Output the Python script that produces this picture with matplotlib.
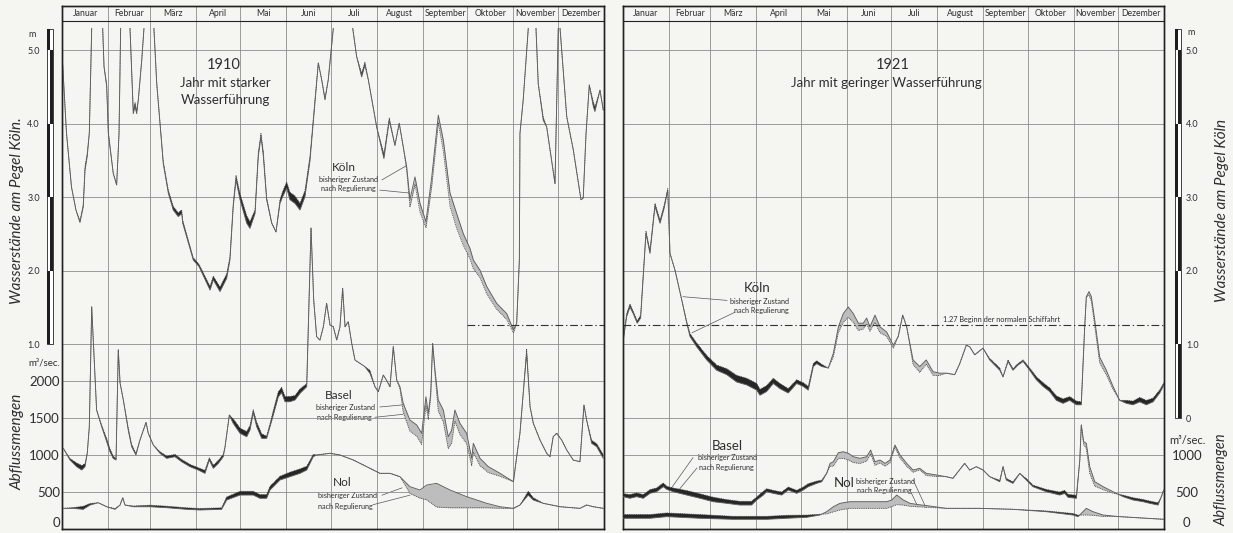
import numpy as np
import matplotlib
matplotlib.use("Agg")
import matplotlib.pyplot as plt
from matplotlib.patches import Rectangle

nan = np.nan
plt.rcParams["font.family"] = ["Lato", "DejaVu Sans"]

months = ["Januar", "Februar", "März", "April", "Mai", "Juni", "Juli",
          "August", "September", "Oktober", "November", "Dezember"]
month_len = [31, 28, 31, 30, 31, 30, 31, 31, 30, 31, 30, 31]

# ---- 1910: Wasserstand Köln (m), day of year ----
koeln_1910_day = [0, 3.0, 6.4, 9.4, 12.1, 14.3, 15.5, 17.0, 18.4, 20.0, 24,
                  27.4, 28.3, 30.1, 31.2, 34.5, 36.8, 38.4, 39.5, 42,
                  45.8, 48.0, 49.2, 50.3, 51.4, 53.7, 55.2, 58,
                  61.9, 63.8, 68.2, 71.6, 74.9, 78.3, 80.6, 81.3, 88.4, 92.3,
                  99.7, 101.9, 106.4, 110.9, 113.1, 115.3, 117.2, 119.9, 124.4, 126.6,
                  130.0, 132.2, 134.0, 135.6, 137.8, 141.2, 144.1, 146.8, 148.6, 151.3,
                  153.5, 156.9, 160.3, 163.6, 167.0, 170.4, 172.6, 174.9, 177.1, 179.3,
                  182.7, 189,
                  195.8, 198.4, 201.8, 204.0, 206.3, 211.9, 216.8, 220.4, 224.2, 227.1,
                  229.8, 232.1, 234.3, 237.7, 241.1, 245.1, 249.0, 253.4, 256.8, 261.3,
                  265.8, 270.2, 274.7, 277.0, 281.5, 286.0, 292.7, 299.5, 304.0, 306.2,
                  308.0, 308.4, 310.6, 314.0, 317,
                  319.2, 320.7, 324.1, 326.4, 332.0, 334.2, 334.8,
                  335.4, 339.9, 344.3, 349.5, 351.0, 352.9, 355.1, 357.8, 358.9, 362.3, 364.5]
koeln_1910_m = [4.97, 3.88, 3.14, 2.83, 2.66, 2.87, 3.37, 3.56, 3.88, 5.3, nan,
                5.3, 4.78, 4.51, 3.87, 3.33, 3.17, 3.87, 5.3, nan,
                5.3, 4.14, 4.24, 4.14, 4.33, 4.87, 5.3, nan,
                5.3, 4.55, 3.46, 3.06, 2.83, 2.74, 2.78, 2.65, 2.15, 2.06,
                1.74, 1.88, 1.72, 1.90, 2.15, 2.87, 3.24, 2.97, 2.65, 2.58,
                2.78, 3.56, 3.83, 3.56, 2.97, 2.65, 2.53, 2.92, 3.01, 3.13,
                2.97, 2.92, 2.83, 3.01, 3.50, 4.30, 4.83, 4.60, 4.33, 4.60,
                5.3, nan,
                5.3, 4.92, 4.64, 4.80, 4.60, 3.96, 3.53, 4.05, 3.71, 4.01,
                3.69, 3.42, 2.97, 3.28, 2.92, 2.67, 3.28, 4.12, 3.78, 3.06,
                2.78, 2.51, 2.31, 2.15, 2.01, 1.79, 1.56, 1.42, 1.20, 1.29,
                2.15, 3.87, 4.33, 5.3, nan,
                5.3, 4.55, 4.05, 3.96, 3.19, 5.3, nan,
                5.3, 4.10, 3.65, 2.97, 2.99, 3.87, 4.53, 4.24, 4.17, 4.46, 4.19]
# nach Regulierung minus bisheriger Zustand
koeln_1910_diff = [0, 0, 0, 0, 0.02, 0.03, 0.05, 0.04, 0, 0, 0,
                   0, 0, 0.03, 0.02, 0, 0, 0, 0, 0,
                   0, 0.04, 0.05, 0.04, 0, 0, 0, 0,
                   0, 0, 0.03, 0.04, 0.05, 0.05, 0.05, 0.04, 0.03, 0.03,
                   0.05, 0.05, 0.06, 0.06, 0.04, 0.04, 0.06, 0.08, 0.10, 0.09,
                   0.05, 0.05, 0.04, 0.06, 0.03, 0.01, 0, 0.05, 0.07, 0.08,
                   0.10, 0.10, 0.09, 0.08, 0.06, 0.04, 0, 0, 0.02, 0,
                   0, 0,
                   0, 0, 0.05, 0.04, 0, 0, 0.06, 0.03, 0, 0,
                   0, -0.05, -0.10, -0.10, -0.12, -0.08, -0.12, -0.10, -0.15, -0.18,
                   -0.20, -0.16, -0.14, -0.12, -0.10, -0.10, -0.08, -0.08, -0.04, 0,
                   0, 0, 0, 0, 0,
                   0, 0, 0.04, 0, 0, 0, 0,
                   0, 0, 0, 0, 0, 0, 0, 0.06, 0.06, 0, 0]

# ---- 1910: Abflussmengen Basel (m3/sec) ----
basel_1910_day = [0.9, 5.4, 9.9, 13.3, 15.5, 17.0, 18.4, 19.3, 20.0, 23.3,
                  26.7, 30.1, 32.3, 34.5, 36.4, 37.9, 39.1, 41.3, 44.6, 46.9,
                  49.8, 52.5, 56.6, 58.1, 61.5, 66.0, 70.5, 76.1, 80.6, 86.2,
                  91.8, 96.3, 99.2, 101.9, 105.3, 108.6, 109.8, 112.7, 115.3, 119.9,
                  124.4, 126.6, 128.8, 131.1, 134.5, 137.8, 140.1, 142.3, 145.7, 147.9,
                  150.2, 153.5, 156.9, 160.3, 164.8, 167.7, 169.5, 171.5, 173.7, 176.0,
                  178.2, 180.5, 182.7, 185.0, 187.2, 189.0, 190.6, 192.8, 195.1, 197.3,
                  200.7, 204.0, 207.4, 210.8, 213.0, 216.4, 219.1, 220.9, 223.1, 225.4,
                  227.6, 229.8, 234.3, 238.9, 242.2, 245.1, 246.7, 248.3, 249.6, 251.2,
                  253.4, 256.8, 260.1, 262.4, 264.6, 268.0, 272.5, 275.9, 277.0, 281.5,
                  287.1, 295.0, 304.0, 306.2, 308.4, 310.6, 312.9, 315.2, 317.4, 321.9,
                  326.4, 328.6, 330.8, 333.1, 336.5, 339.9, 344.3, 348.8, 351.5, 353.3,
                  356.7, 360.1, 364.5]
basel_1910_q = [1090, 932, 842, 797, 842, 1023, 1383, 2283, 3003, 1608,
                1383, 1180, 1044, 955, 932, 2420, 1973, 1743, 1337, 1112,
                1000, 1202, 1441, 1293, 1135, 1023, 955, 977, 909, 842,
                797, 752, 932, 820, 887, 977, 1112, 1540, 1428, 1293,
                1247, 1337, 1571, 1383, 1225, 1225, 1383, 1540, 1787, 1842,
                1720, 1720, 1743, 1833, 1922, 4066, 3094, 2598, 2553, 2733,
                3049, 2756, 2733, 2553, 2733, 3252, 2733, 2801, 2509, 2283,
                2238, 2193, 2103, 1922, 1855, 2081, 1990, 1922, 2463, 2013,
                1922, 1698, 1472, 1405, 1293, 1787, 1563, 1833, 2509, 2148,
                1743, 1608, 1247, 1337, 1608, 1428, 1293, 955, 1158, 955,
                842, 752, 639, 977, 1293, 1833, 2373, 1652, 1428, 1202,
                1023, 977, 1247, 1293, 1202, 1067, 932, 909, 1675, 1472,
                1158, 1112, 955]
basel_1910_diff = [0, 20, 50, 60, 40, 0, 0, 0, 0, 0,
                   20, 40, 40, 30, 20, 0, 0, 0, 30, 30,
                   20, 0, 0, 0, 0, 20, 30, 30, 30, 30,
                   30, 40, 30, 40, 40, 30, 0, 0, 60, 70,
                   70, 60, 40, 60, 60, 30, 40, 60, 70, 70,
                   70, 70, 60, 60, 40, 0, 0, 0, 0, 0,
                   0, 0, 0, 0, 0, 0, 0, 0, 0, 0,
                   0, 0, 40, 0, 0, 0, 0, 0, 0, 0,
                   -30, -120, -150, -150, -150, -120, -80, -60, 0, -60,
                   -150, -160, -160, -180, -150, -150, -140, -100, -120, -100,
                   -80, -40, 0, 0, 0, 0, 60, 0, 0, 0,
                   0, 0, 0, 0, 0, 0, 0, 0, 0, 0,
                   40, 40, 50]

# ---- 1910: Abflussmengen Nol (m3/sec) ----
nol_1910_day = [0.9, 7.6, 14.3, 18.9, 24.4, 30.1, 35.7, 39.1, 40.9, 42.4,
                48.0, 59.3, 70.5, 84.0, 92.9, 107.5, 110.9, 119.9, 128.8, 133.3,
                137.8, 140.1, 146.8, 153.5, 160.3, 164.8, 169.2, 171.5, 180.5, 187.2,
                196.2, 205.2, 214.1, 220.9, 227.6, 234.3, 241.1, 245.6, 252.3, 261.3,
                272.5, 286.0, 295.0, 304.0, 308.4, 314.0, 317.4, 324.1, 335.4, 348.8,
                353.3, 357.8, 364.5]
nol_1910_q = [279, 279, 266, 324, 355, 301, 266, 324, 423, 324,
              301, 301, 288, 266, 257, 266, 392, 459, 459, 415,
              415, 527, 662, 707, 752, 797, 977, 1000, 1023, 1000,
              932, 842, 752, 752, 707, 572, 527, 594, 617, 527,
              437, 347, 301, 279, 324, 459, 392, 347, 301, 279,
              324, 301, 279]
nol_1910_diff = [0, 10, 40, 20, 0, 0, 10, 0, 0, 0,
                 10, 20, 20, 20, 20, 20, 40, 50, 50, 50,
                 50, 50, 50, 60, 60, 50, 30, 0, 0, 0,
                 0, 0, 0, 0, 0, -90, -110, -200, -320, -240,
                 -150, -60, -20, 0, 0, 50, 30, 0, 0, 0,
                 0, 0, 0]

# ---- 1921: Wasserstand Köln (m) ----
koeln_1921_day = [0.2, 2.5, 4.7, 6.9, 9.6, 11.9, 15.5, 18.2, 21.6, 25.0,
                  27.7, 30.2, 31.7, 35.1, 39.6, 43.0, 45.2, 49.7, 56.5, 63.2,
                  70.0, 76.7, 83.5, 90.2, 92.4, 96.9, 101.4, 105.9, 111.5, 117.2,
                  121.6, 125.0, 128.4, 130.7, 134.1, 138.5, 141.9, 145.3, 148.6, 152.0,
                  155.4, 158.8, 162.1, 164.4, 166.6, 170.0, 173.4, 177.9, 182.4, 185.7,
                  188.7, 191.4, 195.7, 200.2, 204.6, 209.2, 213.7, 218.1, 223.8, 227.2,
                  231.6, 233.9, 237.3, 242.9, 247.4, 254.2, 256.4, 259.8, 263.1, 266.5,
                  269.9, 274.4, 278.9, 283.4, 287.9, 292.4, 296.9, 301.4, 305.9, 309.2,
                  311.5, 312.6, 314.4, 316.0, 318.3, 321.6, 326.1, 330.6, 335.1, 339.6,
                  344.1, 348.6, 353.1, 357.6, 362.1, 365.0]
koeln_1921_m = [1.06, 1.38, 1.51, 1.42, 1.29, 1.36, 2.51, 2.24, 2.88, 2.65,
                2.85, 3.10, 2.24, 2.01, 1.61, 1.29, 1.11, 0.97, 0.79, 0.65,
                0.59, 0.49, 0.45, 0.38, 0.31, 0.36, 0.47, 0.40, 0.34, 0.47,
                0.43, 0.38, 0.70, 0.74, 0.70, 0.68, 0.88, 1.24, 1.42, 1.51,
                1.42, 1.29, 1.29, 1.36, 1.24, 1.40, 1.24, 1.17, 0.99, 1.11,
                1.40, 1.24, 0.79, 0.70, 0.79, 0.63, 0.61, 0.61, 0.59, 0.74,
                0.99, 0.97, 0.86, 0.95, 0.79, 0.65, 0.56, 0.77, 0.65, 0.72,
                0.77, 0.65, 0.52, 0.43, 0.36, 0.24, 0.20, 0.24, 0.18, 0.18,
                1.24, 1.65, 1.72, 1.65, 1.33, 0.83, 0.65, 0.43, 0.24, 0.20,
                0.18, 0.22, 0.18, 0.22, 0.34, 0.45]
koeln_1921_diff = [0.03, 0.04, 0.04, 0.03, 0.03, 0.04, 0.03, 0.04, 0.04, 0.04,
                   0.04, 0.02, 0, 0, 0, 0.02, 0.04, 0.05, 0.06, 0.07,
                   0.08, 0.09, 0.09, 0.09, 0.08, 0.08, 0.07, 0.07, 0.06, 0.05,
                   0.05, 0.05, 0.04, 0.04, 0.03, 0, -0.05, -0.08, -0.12, -0.14,
                   -0.12, -0.10, -0.08, -0.08, -0.06, -0.10, -0.08, -0.06, -0.04, 0,
                   0, 0, -0.06, -0.08, -0.06, -0.05, -0.03, 0, 0, 0,
                   0, 0, 0, 0, 0.02, 0.03, 0, 0.02, 0.02, 0.02,
                   0.02, 0.03, 0.04, 0.05, 0.05, 0.06, 0.06, 0.05, 0.05, 0.04,
                   0, 0, -0.05, -0.06, -0.08, -0.08, -0.06, -0.04, 0, 0.04,
                   0.05, 0.06, 0.06, 0.05, 0.04, 0.03]

# ---- 1921: Abflussmengen Basel ----
basel_1921_day = [0.2, 4.7, 9.2, 13.7, 18.2, 22.7, 27.2, 29.5, 33.9, 43.0,
                  52.0, 60.9, 70.0, 78.9, 86.8, 90.2, 94.7, 96.9, 101.4, 107.1,
                  111.5, 117.2, 121.6, 125.0, 130.7, 134.1, 137.4, 139.7, 141.9, 145.3,
                  148.6, 152.0, 155.4, 159.9, 164.4, 167.1, 170.0, 173.4, 176.8, 180.1,
                  183.5, 186.9, 191.4, 195.7, 200.2, 204.6, 211.4, 218.1, 222.6, 230.5,
                  233.9, 238.4, 242.9, 247.4, 254.2, 256.4, 258.6, 263.1, 267.7, 272.1,
                  276.6, 285.6, 294.7, 298.0, 300.3, 305.9, 308.2, 309.2, 310.8, 312.6,
                  314.9, 318.3, 323.9, 330.6, 337.4, 344.1, 350.9, 355.4, 361.0, 363.2,
                  364.8]
basel_1921_q = [437, 415, 437, 415, 482, 504, 572, 536, 504, 459,
                415, 369, 347, 324, 324, 392, 459, 504, 482, 459,
                527, 482, 527, 572, 617, 639, 752, 887, 909, 1031,
                1044, 1023, 977, 955, 977, 1067, 909, 932, 887, 932,
                1135, 1000, 887, 797, 820, 752, 730, 707, 685, 887,
                797, 842, 797, 707, 639, 842, 662, 617, 752, 662,
                572, 504, 459, 482, 428, 415, 932, 1405, 1180, 1158,
                842, 639, 572, 504, 437, 392, 369, 347, 324, 437,
                527]
basel_1921_diff = [40, 50, 50, 50, 50, 50, 50, 40, 50, 60,
                   60, 60, 50, 50, 50, 40, 50, 40, 40, 40,
                   40, 40, 40, 40, 30, 20, 0, -40, -60, -80,
                   -90, -90, -80, -70, -60, -50, -50, -40, -40, -40,
                   -30, -40, -40, -30, -20, -30, -20, 0, 0, 0,
                   0, 0, 0, 0, 20, 0, 20, 20, 0, 20,
                   20, 30, 40, 40, 40, 40, 0, 0, -40, -70,
                   -90, -60, -40, -20, 20, 30, 30, 30, 30, 0,
                   0]

# ---- 1921: Abflussmengen Nol ----
nol_1921_day = [0.2, 18.2, 29.5, 52.0, 74.4, 96.9, 110.4, 123.9, 132.9, 137.4,
                141.9, 146.4, 153.2, 164.4, 177.9, 181.3, 184.7, 189.1, 193.6, 199.0,
                206.9, 218.1, 240.7, 263.1, 285.6, 303.6, 307.0, 312.6, 317.1, 323.9,
                335.1, 353.1, 365.0]
nol_1921_q = [145, 145, 167, 145, 131, 131, 145, 158, 189, 234,
              301, 347, 369, 369, 369, 392, 459, 392, 347, 330,
              311, 279, 279, 266, 234, 189, 167, 279, 234, 189,
              167, 145, 131]
nol_1921_diff = [50, 50, 50, 50, 40, 40, 40, 30, 10, -30,
                 -70, -90, -90, -90, -90, -90, -130, -70, -40, -30,
                 -20, 0, 0, 0, 10, 20, 20, -90, -50, -20,
                 0, 0, 0]

# sheet scales: Köln metres on ax, m3/sec on twin; 1 m on the sheet = 993 m3/sec, 0 m = 1500
H_LO, H_HI = -1.51, 5.605
Q_OFF, Q_PER_M = 1500, 993.2

PAPER = "#f5f5f2"
INK = "#2e2e2e"
THIN = "#5e5e5e"
DARK = "#262626"
LIGHT = "#bdbdbd"
GRIDC = "#8c8c8c"

fig = plt.figure(figsize=(12.33, 5.33), dpi=100, facecolor=PAPER)


def band(ax, day, base, diff):
    d = np.array(day, float)
    b = np.array(base, float)
    n = b + np.array(diff, float)
    ax.fill_between(d, b, n, where=n > b, interpolate=True, color=DARK, lw=0, zorder=2)
    ax.fill_between(d, b, n, where=n < b, interpolate=True, color=LIGHT, lw=0, zorder=2)
    ax.plot(d, n, color="#444", lw=0.6, ls=(0, (1.2, 1.0)), zorder=3)
    ax.plot(d, b, color=THIN, lw=0.65, zorder=3)


def panel(rect, side):
    ax = fig.add_axes(rect, facecolor=PAPER)
    ax.set_xlim(0, 365)
    ax.set_ylim(H_LO, H_HI)
    ax2 = ax.twinx()
    ax2.set_ylim(Q_OFF + Q_PER_M * H_LO, Q_OFF + Q_PER_M * H_HI)
    edges = np.cumsum(month_len)[:-1]
    ax.set_xticks(edges)
    ax.tick_params(axis="x", length=0, labelbottom=False)
    ax.grid(axis="x", color=GRIDC, lw=0.6)
    ax.grid(axis="y", color=GRIDC, lw=0.6)
    ax2.grid(axis="y", color=GRIDC, lw=0.6)
    ax.set_axisbelow(True)
    ax2.set_axisbelow(True)
    for a in (ax, ax2):
        for s in a.spines.values():
            s.set_color("#222")
            s.set_linewidth(1.0)
    # month header
    ax.axhline(5.40, color="#222", lw=0.8)
    starts = np.concatenate([[0], edges])
    for m, s, ln in zip(months, starts, month_len):
        ax.text(s + ln / 2, 5.505, m, ha="center", va="center", fontsize=6.2, color=INK)
    if side == "left":
        ax.set_yticks([1, 2, 3, 4, 5], labels=["1.0", "2.0", "3.0", "4.0", "5.0"])
        ax.tick_params(axis="y", length=0, pad=15.8, labelsize=6.5, labelcolor=INK)
        ax2.yaxis.tick_left()
        ax2.set_yticks([0, 500, 1000, 1500, 2000], labels=["0", "500", "1000", "1500", "2000"])
        ax2.tick_params(axis="y", length=0, pad=1.5, labelsize=9.5, labelcolor=INK)
    else:
        ax.yaxis.tick_right()
        ax.set_yticks([0, 1, 2, 3, 4, 5], labels=["0", "1.0", "2.0", "3.0", "4.0", "5.0"])
        ax.tick_params(axis="y", length=0, pad=15.8, labelsize=6.5, labelcolor=INK)
        ax2.set_yticks([0, 500, 1000], labels=["0", "500", "1000"])
        ax2.tick_params(axis="y", length=0, pad=16.5, labelsize=9.5, labelcolor=INK)
        for t in ax2.get_yticklabels():
            t.set_horizontalalignment("center")
    # keep the zero label of the discharge scale inside the sheet
    zero = ax2.yaxis.get_major_ticks()[0]
    zero.label1.set_verticalalignment("bottom")
    zero.label2.set_verticalalignment("bottom")
    return ax, ax2


def ruler(ax, x0, top, bottom):
    tr = ax.get_yaxis_transform()
    w = 0.011
    ax.add_patch(Rectangle((x0, bottom), w, top - bottom, transform=tr, clip_on=False,
                           facecolor="white", edgecolor="#222", lw=0.6))
    levels = [top] + list(range(int(np.floor(top)), int(bottom) - 1, -1))
    for i in range(len(levels) - 1):
        hi, lo = levels[i], max(levels[i + 1], bottom)
        off = 0 if i % 2 == 0 else w / 2
        ax.add_patch(Rectangle((x0 + off, lo), w / 2, hi - lo, transform=tr, clip_on=False,
                               facecolor="#1e1e1e", edgecolor="none"))


def note(ax, x, y, s, size=5.2, **kw):
    ax.text(x, y, s, ha="center", va="center", fontsize=size, color=INK, **kw)


def leader(ax, x1, y1, x2, y2):
    ax.plot([x1, x2], [y1, y2], color="#555", lw=0.5, zorder=4)


# ---------------- left panel: 1910 ----------------
axL, axL2 = panel([62 / 1233, 4 / 533, 542 / 1233, 523 / 533], "left")
band(axL, koeln_1910_day, koeln_1910_m, koeln_1910_diff)
band(axL2, basel_1910_day, basel_1910_q, basel_1910_diff)
band(axL2, nol_1910_day, nol_1910_q, nol_1910_diff)
axL.plot([273, 365], [1.27, 1.27], color="#333", lw=0.8, ls=(0, (7, 2.5, 1.2, 2.5)), zorder=3)

axL.text(109, 4.80, "1910", ha="center", va="center", fontsize=10.5, color=INK)
axL.text(110, 4.56, "Jahr mit starker", ha="center", va="center", fontsize=9.5, color=INK)
axL.text(110, 4.33, "Wasserführung", ha="center", va="center", fontsize=9.5, color=INK)

note(axL, 190, 3.41, "Köln", size=8.5)
note(axL, 193, 3.25, "bisheriger Zustand")
note(axL, 193, 3.12, "nach Regulierung")
leader(axL, 215.5, 3.24, 231.7, 3.43)
leader(axL, 214.1, 3.10, 234.3, 3.06)

note(axL, 186.5, 0.30, "Basel", size=8.5)
note(axL, 191, 0.14, "bisheriger Zustand")
note(axL, 190, 0.01, "nach Regulierung")
leader(axL, 214.1, 0.15, 230.3, 0.18)
leader(axL, 210.8, 0.01, 229.6, 0.05)

note(axL, 189, -0.88, "Nol", size=8.5)
note(axL, 192, -1.06, "bisheriger Zustand")
note(axL, 190.5, -1.20, "nach Regulierung")
leader(axL, 215.5, -1.05, 229.0, -0.95)
leader(axL, 209.4, -1.18, 234.3, -1.05)

ruler(axL, -0.0277, 5.29, 1.0)
trL = axL.get_yaxis_transform()
axL.text(-0.055, 5.22, "m", transform=trL, ha="center", va="center", fontsize=6.5, color=INK)
axL.text(-0.004, 0.75, "m³/sec.", transform=trL, ha="right", va="center", fontsize=7, color=INK)
axL.text(-0.083, 2.82, "Wasserstände am Pegel Köln.", transform=trL, rotation=90,
         ha="center", va="center", fontsize=11, style="italic", color=INK)
axL.text(-0.083, -0.33, "Abflussmengen", transform=trL, rotation=90,
         ha="center", va="center", fontsize=11, style="italic", color=INK)

# ---------------- right panel: 1921 ----------------
axR, axR2 = panel([623 / 1233, 4 / 533, 541 / 1233, 523 / 533], "right")
band(axR, koeln_1921_day, koeln_1921_m, koeln_1921_diff)
band(axR2, basel_1921_day, basel_1921_q, basel_1921_diff)
band(axR2, nol_1921_day, nol_1921_q, nol_1921_diff)
axR.plot([0, 365], [1.27, 1.27], color="#333", lw=0.8, ls=(0, (7, 2.5, 1.2, 2.5)), zorder=3)
axR.text(216, 1.29, "1.27 Beginn der normalen Schiffahrt", ha="left", va="bottom",
         fontsize=5.3, color=INK)

axR.text(182, 4.80, "1921", ha="center", va="center", fontsize=10.5, color=INK)
axR.text(178, 4.56, "Jahr mit geringer Wasserführung", ha="center", va="center",
         fontsize=9.5, color=INK)

note(axR, 90.4, 1.77, "Köln", size=9.5)
note(axR, 92.4, 1.58, "bisheriger Zustand")
note(axR, 93.1, 1.46, "nach Regulierung")
leader(axR, 70.2, 1.60, 40.5, 1.65)
leader(axR, 75.6, 1.44, 46.6, 1.16)

note(axR, 70.2, -0.38, "Basel", size=9.5)
note(axR, 70.2, -0.54, "bisheriger Zustand")
note(axR, 69.5, -0.68, "nach Regulierung")
leader(axR, 47.2, -0.54, 31.7, -0.98)
leader(axR, 49.9, -0.68, 36.4, -1.01)

note(axR, 149, -0.88, "Nol", size=9.5)
note(axR, 176.8, -0.86, "bisheriger Zustand")
note(axR, 176.1, -0.98, "nach Regulierung")
leader(axR, 195.7, -0.84, 204.4, -1.22)
leader(axR, 193.6, -0.98, 199.0, -1.21)

ruler(axR, 1.0203, 5.29, 0.0)
trR = axR.get_yaxis_transform()
axR.text(1.050, 5.24, "m", transform=trR, ha="center", va="center", fontsize=6.5, color=INK)
axR.text(1.044, -0.30, "m³/sec.", transform=trR, ha="center", va="center", fontsize=8, color=INK)
axR.text(1.107, 2.83, "Wasserstände am Pegel Köln", transform=trR, rotation=90,
         ha="center", va="center", fontsize=11, style="italic", color=INK)
axR.text(1.107, -0.84, "Abflussmengen", transform=trR, rotation=90,
         ha="center", va="center", fontsize=10.5, style="italic", color=INK)

fig.savefig("out.png", dpi=100, facecolor=fig.get_facecolor())
